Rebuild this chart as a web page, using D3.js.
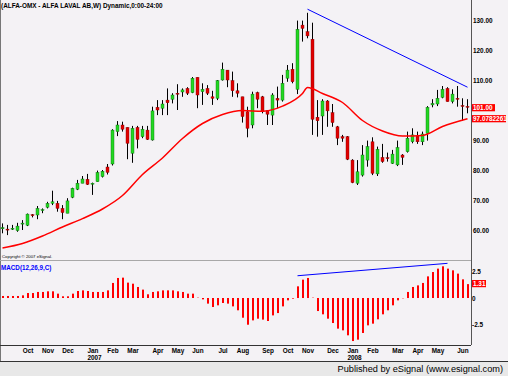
<!DOCTYPE html>
<html>

<head>
    <meta charset="UTF-8">
    <style>
        body { margin: 0; background: #ffffff; }
        svg text { font-family: "Liberation Sans", Arial, sans-serif; }
        .axis text { font-size: 6.4px; font-weight: bold; fill: #000; }
        .axis path { display: none; }
    </style>
</head>

<body>
    <svg width="508" height="376"></svg>
    <script src="https://d3js.org/d3.v7.min.js"></script>

    <script>
        // weekly bars (index 0 = first week shown)
        let opens = [60.4, 60.3, 60.4, 59.8, 62.0, 61.6, 65.1, 65.0, 66.6, 67.6,
            68.9, 68.9, 67.2, 65.6, 70.9, 73.6, 75.6, 76.9, 75.4, 76.1,
            77.8, 81.0, 82.0, 92.8, 95.0, 94.2, 85.6, 94.2, 91.1, 93.3,
            90.0, 100.9, 100.6, 103.3, 103.6, 105.6, 106.0, 107.2, 105.8, 110.9,
            106.1, 107.2, 104.4, 103.9, 110.0, 113.3, 109.8, 106.4, 104.4, 99.4,
            95.0, 105.8, 104.4, 99.8, 98.3, 103.9, 103.3, 110.6, 113.6, 106.9,
            128.3, 126.1, 123.6, 97.6, 98.0, 103.0, 99.1, 94.4, 91.1, 91.1,
            83.3, 75.6, 78.3, 83.3, 89.4, 78.7, 84.2, 84.1, 82.2, 81.7,
            85.0, 86.1, 89.4, 91.3, 89.4, 92.2, 101.7, 102.0, 104.2, 107.2,
            102.8, 103.9, 101.5, 101.2];
        let highs = [62.2, 61.7, 61.7, 62.4, 63.3, 65.5, 65.3, 68.0, 67.2, 69.4,
            73.1, 69.7, 68.3, 70.6, 74.1, 76.7, 78.0, 78.7, 75.8, 79.8,
            80.0, 82.0, 93.6, 96.3, 96.1, 94.2, 94.7, 94.7, 94.7, 94.7,
            101.1, 103.3, 103.3, 107.2, 105.6, 108.6, 107.2, 107.6, 111.0, 110.9,
            108.9, 108.3, 106.4, 110.0, 115.8, 113.3, 112.8, 108.9, 104.4, 101.1,
            106.1, 106.1, 104.7, 100.0, 105.6, 107.8, 111.7, 115.0, 115.6, 129.8,
            129.8, 132.4, 129.1, 103.3, 103.6, 103.3, 102.0, 94.7, 91.7, 91.3,
            83.6, 83.3, 88.3, 89.8, 90.9, 87.8, 88.7, 85.8, 86.7, 89.8,
            85.3, 92.8, 93.9, 92.8, 92.8, 101.3, 103.6, 106.7, 108.0, 107.6,
            106.9, 108.0, 103.9, 103.6];
        let lows = [58.9, 58.3, 60.0, 59.4, 60.0, 61.3, 64.2, 63.6, 65.6, 67.2,
            68.3, 66.1, 63.6, 65.6, 70.6, 73.3, 75.6, 75.0, 71.7, 76.1,
            77.5, 78.5, 81.5, 91.3, 92.8, 83.6, 82.4, 87.2, 90.6, 90.0,
            89.8, 98.3, 98.3, 98.3, 102.2, 100.0, 104.4, 105.0, 105.6, 100.6,
            101.7, 105.0, 101.7, 103.3, 109.8, 107.6, 104.4, 104.2, 95.8, 90.9,
            93.9, 100.6, 98.9, 95.0, 95.0, 100.6, 102.8, 109.4, 108.9, 105.3,
            122.8, 123.9, 91.7, 91.1, 91.7, 94.4, 94.4, 88.3, 89.4, 83.3,
            75.6, 75.0, 77.8, 81.1, 78.3, 78.0, 82.4, 82.8, 82.0, 81.3,
            81.7, 85.8, 88.9, 88.7, 88.3, 89.8, 100.9, 101.3, 103.9, 102.8,
            102.2, 101.1, 96.4, 98.9];
        let closes = [60.8, 60.1, 60.6, 61.3, 62.3, 65.3, 64.9, 67.2, 66.8, 68.9,
            69.4, 67.2, 65.8, 69.7, 73.9, 75.6, 77.0, 75.2, 75.6, 79.2,
            79.6, 79.2, 93.3, 95.0, 93.6, 88.9, 93.9, 90.2, 93.6, 90.2,
            99.7, 100.0, 102.0, 102.4, 105.0, 105.3, 106.7, 105.6, 110.6, 105.0,
            106.9, 105.6, 103.9, 109.8, 113.6, 110.0, 106.4, 105.6, 97.8, 93.9,
            105.3, 103.6, 99.4, 98.6, 105.0, 103.3, 108.9, 113.3, 109.4, 126.9,
            127.2, 124.7, 96.9, 96.4, 103.0, 99.7, 95.8, 90.6, 90.6, 83.6,
            75.8, 79.4, 85.0, 87.8, 78.9, 86.9, 82.8, 84.0, 85.3, 87.5,
            84.2, 90.6, 91.7, 89.4, 92.0, 100.9, 102.2, 103.9, 106.9, 102.8,
            105.3, 103.6, 101.3, 101.0];

        // moving average, sampled along its curve
        let maIdx = [0, 4, 8, 12, 16, 20, 24, 28, 32, 36, 40, 44, 48, 52, 56, 60, 61, 64, 68, 72, 76, 80, 84, 88, 93];
        let maVals = [54.0, 55.5, 58.0, 61.0, 63.8, 67.0, 71.5, 78.5, 84.0, 90.5, 95.5, 98.5, 99.8, 99.6, 101.3,
            105.5, 107.5, 105.5, 102.5, 96.5, 93.0, 91.3, 91.5, 94.5, 97.1];

        let trendIdx = [61, 93];
        let trendVals = [133.6, 107.6];

        let macdVals = [0.19, 0.19, 0.19, 0.19, 0.25, 0.47, 0.47, 0.57, 0.57, 0.63,
            0.63, 0.41, 0.16, 0.16, 0.41, 0.66, 0.72, 0.66, 0.57, 0.57,
            0.57, 0.72, 1.42, 1.89, 1.92, 1.45, 1.35, 1.04, 0.79, 0.35,
            0.57, 0.63, 0.72, 0.72, 0.72, 0.63, 0.57, 0.41, 0.41, 0.03,
            -0.13, -0.53, -0.85, -0.69, -0.47, -0.53, -0.79, -1.16, -1.86, -2.52,
            -2.11, -1.95, -2.04, -2.17, -1.64, -1.42, -0.79, -0.22, -0.06, 1.10,
            1.73, 1.89, 0.03, -1.23, -1.54, -1.95, -2.36, -2.89, -3.05, -3.52,
            -4.06, -3.93, -3.30, -2.58, -2.42, -2.01, -1.54, -1.16, -0.69, -0.22,
            -0.03, 0.57, 1.04, 1.19, 1.42, 2.04, 2.45, 2.77, 2.99, 2.77,
            2.61, 2.30, 1.76, 1.31];
        let macdTrendIdx = [59, 89];
        let macdTrendVals = [2.1, 3.27];

        // 100.00 is hidden behind the last-value tags in the original
        let priceTicks = [60, 70, 80, 90, 110, 120, 130];
        let macdTicks = [-2.5, 0, 2.5];
        let monthIdx = [5, 9, 13, 18, 22, 26, 31, 35, 39, 44, 48, 53, 57, 61, 66, 70, 74, 79, 83, 87, 92];
        let monthLabels = ["Oct", "Nov", "Dec", "Jan", "Feb", "Mar", "Apr", "May", "Jun", "Jul", "Aug",
            "Sep", "Oct", "Nov", "Dec", "Jan", "Feb", "Mar", "Apr", "May", "Jun"];
        let yearIdx = [18, 70];
        let yearLabels = ["2007", "2008"];

        let width = 508, height = 376, plotRight = 471;

        let svg = d3.select("svg");

        svg.append("rect").attr("width", width).attr("height", 362).attr("fill", "#f4f2f5");
        svg.append("rect").attr("y", 362).attr("width", width).attr("height", 14).attr("fill", "#e8e8e8");

        let x = d3.scaleLinear().domain([0, opens.length - 1]).range([2.5, 467.5]);
        let yPrice = d3.scaleLinear().domain([60, 130]).range([230, 20]);
        let yMacd = d3.scaleLinear().domain([-2.5, 2.5]).range([324.5, 271.5]);

        // frame
        let frame = svg.append("g").attr("stroke-width", 1);
        frame.append("line").attr("x1", 0.5).attr("x2", 0.5).attr("y1", 0).attr("y2", 362).attr("stroke", "#777");
        frame.append("line").attr("x1", plotRight + 0.5).attr("x2", plotRight + 0.5).attr("y1", 0).attr("y2", 345).attr("stroke", "#555");
        frame.append("line").attr("x1", 0).attr("x2", plotRight).attr("y1", 260.5).attr("y2", 260.5).attr("stroke", "#a8a8a8");
        frame.append("line").attr("x1", 0).attr("x2", plotRight).attr("y1", 345.5).attr("y2", 345.5).attr("stroke", "#333");
        frame.append("line").attr("x1", 0).attr("x2", width).attr("y1", 361.5).attr("y2", 361.5).attr("stroke", "#333");

        // candles
        let bars = d3.range(opens.length);
        let candles = svg.append("g").selectAll("g").data(bars).enter().append("g");
        candles.append("line")
            .attr("x1", i => x(i)).attr("x2", i => x(i))
            .attr("y1", i => yPrice(highs[i])).attr("y2", i => yPrice(lows[i]))
            .attr("stroke", "#000").attr("stroke-width", 1);
        candles.append("rect")
            .attr("x", i => x(i) - 1.5)
            .attr("width", 3)
            .attr("y", i => yPrice(Math.max(opens[i], closes[i])))
            .attr("height", i => Math.max(1, Math.abs(yPrice(opens[i]) - yPrice(closes[i]))))
            .attr("fill", i => closes[i] >= opens[i] ? "#22d822" : "#e00000")
            .attr("stroke", i => closes[i] >= opens[i] ? "#0b6b0b" : "#800000")
            .attr("stroke-width", 0.4);

        // moving average
        let maLine = d3.line().x(i => x(maIdx[i])).y(i => yPrice(maVals[i])).curve(d3.curveMonotoneX);
        svg.append("path").attr("d", maLine(d3.range(maIdx.length)))
            .attr("fill", "none").attr("stroke", "#ff0000").attr("stroke-width", 1.5);

        // trend line
        svg.append("line")
            .attr("x1", x(trendIdx[0])).attr("y1", yPrice(trendVals[0]))
            .attr("x2", x(trendIdx[1])).attr("y2", yPrice(trendVals[1]))
            .attr("stroke", "#0000ff").attr("stroke-width", 1);

        // macd histogram
        svg.append("g").selectAll("rect").data(bars).enter().append("rect")
            .attr("x", i => x(i) - 0.5)
            .attr("width", 2)
            .attr("y", i => yMacd(Math.max(0, macdVals[i])))
            .attr("height", i => Math.abs(yMacd(macdVals[i]) - yMacd(0)))
            .attr("fill", "#ff0000");

        svg.append("line")
            .attr("x1", x(macdTrendIdx[0])).attr("y1", yMacd(macdTrendVals[0]))
            .attr("x2", x(macdTrendIdx[1])).attr("y2", yMacd(macdTrendVals[1]))
            .attr("stroke", "#0000ff").attr("stroke-width", 1);

        // axes
        svg.append("g").attr("class", "axis")
            .attr("transform", "translate(" + plotRight + ",0)")
            .call(d3.axisRight(yPrice).tickValues(priceTicks).tickFormat(d3.format(".2f")).tickSize(0).tickPadding(2));

        svg.append("g").attr("class", "axis")
            .attr("transform", "translate(" + plotRight + ",0)")
            .call(d3.axisRight(yMacd).tickValues(macdTicks).tickFormat(d => String(d)).tickSize(0).tickPadding(1));

        svg.append("g").attr("class", "axis")
            .attr("transform", "translate(0,345)")
            .call(d3.axisBottom(x).tickValues(monthIdx).tickFormat((d, k) => monthLabels[k]).tickSize(0).tickPadding(3));

        svg.append("g").attr("class", "axis").selectAll("text").data(yearIdx).enter().append("text")
            .attr("x", i => x(i) + 2).attr("y", 360)
            .attr("text-anchor", "middle")
            .text((d, k) => yearLabels[k]);

        // last value tags
        function tag(yPos, label, w) {
            svg.append("rect").attr("x", plotRight + 1).attr("y", yPos - 3.6).attr("width", w).attr("height", 7.2).attr("fill", "#ff0000");
            svg.append("text").attr("x", plotRight + 2).attr("y", yPos + 2.3)
                .attr("font-size", "6.4px").attr("font-weight", "bold").attr("fill", "#fff").text(label);
        }
        tag(yPrice(closes[closes.length - 1]) + 0.7, d3.format(".2f")(closes[closes.length - 1]), 23);
        tag(yPrice(maVals[maVals.length - 1]), "97.0782261", 34);
        tag(yMacd(macdVals[macdVals.length - 1]) - 0.5, String(macdVals[macdVals.length - 1]), 14);

        // texts
        svg.append("text").attr("x", 1).attr("y", 8)
            .attr("font-size", "6.4px").attr("font-weight", "bold")
            .text("(ALFA-OMX - ALFA LAVAL AB,W) Dynamic,0:00-24:00");
        svg.append("text").attr("x", 2).attr("y", 257.5)
            .attr("font-size", "4.3px").text("Copyright © 2007 eSignal.");
        svg.append("text").attr("x", 1).attr("y", 269.5)
            .attr("font-size", "6.3px").attr("font-weight", "bold").attr("fill", "#0000ff")
            .text("MACD(12,26,9,C)");
        svg.append("text").attr("x", 503).attr("y", 371.5).attr("text-anchor", "end")
            .attr("font-size", "9.2px").attr("fill", "#000")
            .text("Published by eSignal (www.esignal.com)");
    </script>

</body>

</html>
